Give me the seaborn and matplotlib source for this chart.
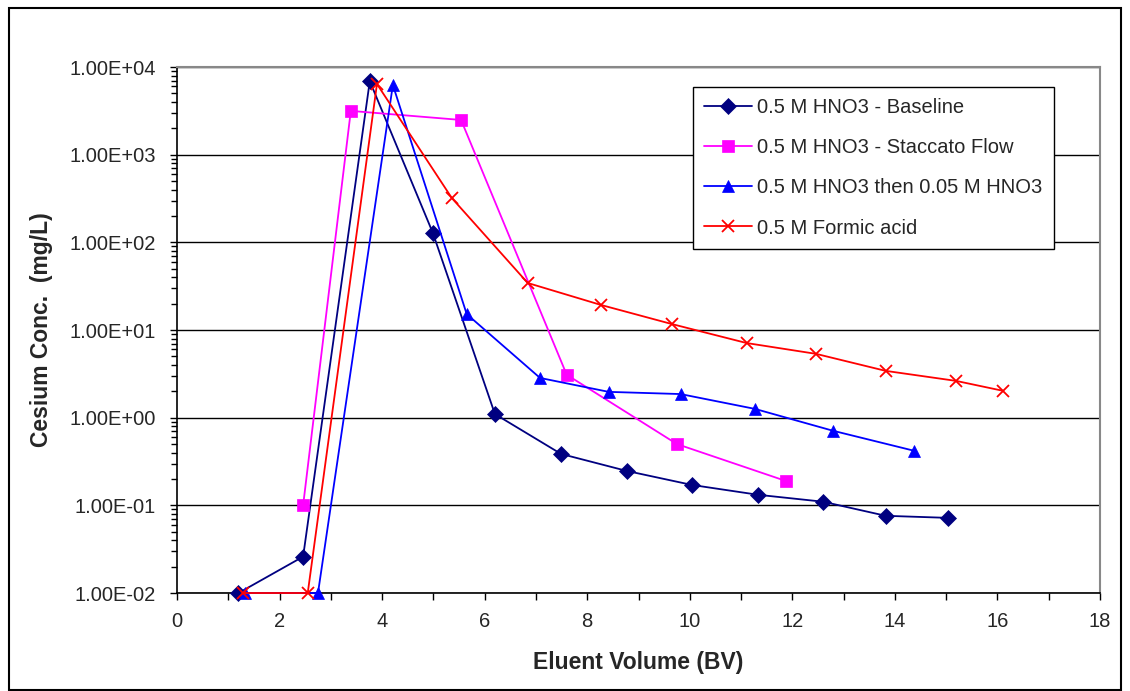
"""Cesium elution curves for the four eluent conditions."""

import matplotlib
matplotlib.use("Agg")
import matplotlib.pyplot as plt
import matplotlib.ticker as mticker
import pandas as pd
import seaborn as sns
from matplotlib.patches import Rectangle

baseline_bv = [1.2, 2.46, 3.76, 4.99, 6.2, 7.49, 8.77, 10.04, 11.33, 12.6, 13.82, 15.03]
baseline_cs = [0.01, 0.026, 6900, 128, 1.1, 0.386, 0.247, 0.171, 0.132, 0.11, 0.076, 0.072]

staccato_bv = [2.46, 3.39, 5.54, 7.6, 9.75, 11.87]
staccato_cs = [0.10, 3160, 2490, 3.09, 0.50, 0.19]

switch_bv = [1.33, 2.75, 4.21, 5.65, 7.08, 8.42, 9.82, 11.27, 12.79, 14.37]
switch_cs = [0.01, 0.01, 6240, 15.2, 2.84, 1.97, 1.86, 1.26, 0.71, 0.42]

formic_bv = [1.29, 2.55, 3.9, 5.36, 6.84, 8.27, 9.65, 11.11, 12.46, 13.82, 15.19, 16.1]
formic_cs = [0.01, 0.01, 6400, 320, 34.4, 19.3, 11.7, 7.1, 5.35, 3.42, 2.63, 2.03]

SERIES = [
    ("0.5 M HNO3 - Baseline", baseline_bv, baseline_cs, "#000080", "D", 8),
    ("0.5 M HNO3 - Staccato Flow", staccato_bv, staccato_cs, "#FF00FF", "s", 8),
    ("0.5 M HNO3 then 0.05 M HNO3", switch_bv, switch_cs, "#0000FF", "^", 9),
    ("0.5 M Formic acid", formic_bv, formic_cs, "#FF0000", "x", 9),
]


def main() -> None:
    sns.set_style("ticks")
    plt.rcParams["font.family"] = ["Liberation Sans", "DejaVu Sans"]

    fig = plt.figure(figsize=(11.3, 6.91), dpi=100)
    ax = fig.add_axes([0.1566, 0.1418, 0.8169, 0.7612])

    for label, bv, cs, color, marker, size in SERIES:
        df = pd.DataFrame({"bv": bv, "cs": cs})
        sns.lineplot(
            data=df, x="bv", y="cs", ax=ax, sort=False, color=color,
            marker=marker, markersize=size, linewidth=1.3, label=label,
            markeredgecolor=color, markeredgewidth=1.3 if marker == "x" else 0.5,
            clip_on=False, zorder=3,
        )

    ax.set_yscale("log")
    ax.set_ylim(0.01, 1e4)
    ax.set_xlim(0, 18)
    ax.xaxis.set_major_locator(mticker.MultipleLocator(2))
    ax.xaxis.set_minor_locator(mticker.MultipleLocator(1))
    ax.yaxis.set_major_formatter(mticker.FuncFormatter(lambda v, _: f"{v:.2E}"))
    ax.yaxis.set_minor_formatter(mticker.NullFormatter())

    ax.tick_params(axis="both", which="major", labelsize=14.5, direction="out",
                   length=5, width=1, color="black")
    ax.tick_params(axis="y", which="major", pad=10)
    ax.tick_params(axis="x", which="major", pad=9)
    ax.tick_params(axis="x", which="minor", direction="out", length=5, width=1, color="black")
    ax.tick_params(axis="y", which="minor", direction="out", length=4, width=1, color="black")

    ax.grid(True, which="major", axis="y", color="black", linewidth=1)
    ax.grid(False, axis="x")
    for side in ("left", "bottom"):
        ax.spines[side].set_color("black")
        ax.spines[side].set_linewidth(1.2)
    for side in ("top", "right"):
        ax.spines[side].set_color("#888888")
        ax.spines[side].set_linewidth(1.5)

    ax.set_xlabel("Eluent Volume (BV)", fontsize=16.5, fontweight="bold", labelpad=14)
    ax.set_ylabel("Cesium Conc.  (mg/L)", fontsize=16.5, fontweight="bold", labelpad=12)

    leg = ax.legend(
        loc="upper left", bbox_to_anchor=(0.559, 0.962), borderaxespad=0,
        fontsize=14.5, frameon=True, fancybox=False, shadow=False,
        edgecolor="black", framealpha=1, handlelength=2.4, labelspacing=1.05,
        borderpad=0.55, handletextpad=0.25,
    )
    leg.get_frame().set_linewidth(1)

    fig.patches.append(Rectangle((0.008, 0.002), 0.984, 0.986, transform=fig.transFigure,
                                 fill=False, edgecolor="black", linewidth=1.5))

    fig.savefig("out.png", dpi=100)
    plt.close(fig)


if __name__ == "__main__":
    main()
